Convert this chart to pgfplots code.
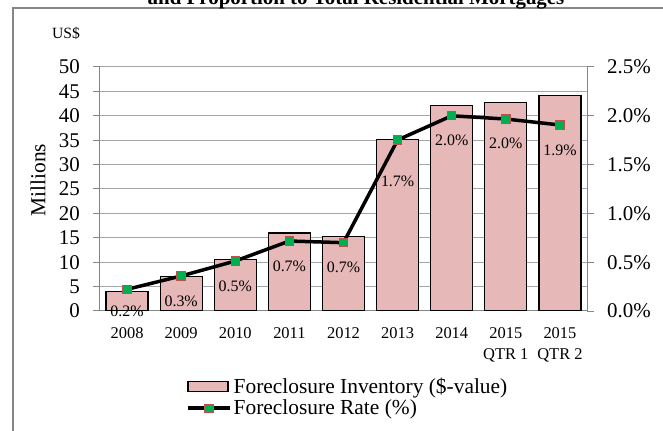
\documentclass[border=0pt]{standalone}
\usepackage{fontspec}
\setmainfont{Liberation Serif}
\usepackage{pgfplots}
\pgfplotsset{compat=1.18}
\definecolor{barfill}{HTML}{E6B9B8}
\definecolor{mkgreen}{HTML}{00B050}
\definecolor{mkred}{HTML}{C0504D}
\definecolor{axgray}{HTML}{868686}
\definecolor{grdgray}{HTML}{A6A6A6}
\pgfplotstableread{
x inv rate lab dy
0 3.95 0.222 0.2 -22
1 7.0 0.359 0.3 -25
2 10.6 0.512 0.5 -25
3 16.0 0.717 0.7 -25
4 15.3 0.700 0.7 -25
5 35.2 1.752 1.7 -41
6 42.1 2.000 2.0 -25
7 42.7 1.967 2.0 -24
8 44.2 1.906 1.9 -25
}\datatable
\begin{document}
\begin{tikzpicture}
\draw[axgray, line width=1.3bp] (13bp,-5bp) -- (13bp,423bp) -- (670bp,423bp);
\node[font=\bfseries\fontsize{21}{25}\selectfont, anchor=base] at (356bp,426bp) {and Proportion to Total Residential Mortgages};
\node[font=\fontsize{15.7}{18}\selectfont] at (66bp,398bp) {US\$};
\node[font=\fontsize{21.5}{24}\selectfont, rotate=90] at (38bp,251bp) {Millions};
\begin{axis}[
  at={(100bp,120bp)}, anchor=south west,
  scale only axis, width=487bp, height=244bp,
  xmin=-0.5, xmax=8.5, ymin=0, ymax=50,
  axis x line*=bottom, axis y line*=left,
  axis line style={axgray, line width=1bp},
  tick align=outside,
  major tick length=7bp, minor tick length=6bp,
  every tick/.style={axgray, line width=1bp},
  xtick={0,...,8}, x tick style={draw=none},
  minor xtick={-0.5,0.5,...,8.5},
  every minor tick/.style={axgray, line width=1bp},
  xticklabels={2008,2009,2010,2011,2012,2013,2014,{2015\\QTR 1},{2015\\QTR 2}},
  xticklabel style={font=\fontsize{16.5}{21}\selectfont, align=center, inner sep=0pt, yshift=-9bp},
  ytick={0,5,...,50},
  yticklabels={0,5,10,15,20,25,30,35,40,45,50},
  yticklabel style={font=\fontsize{21}{24}\selectfont, inner xsep=0pt, xshift=-13bp},
  ymajorgrids, major grid style={grdgray, line width=1bp},
]
\addplot[ybar, bar width=42bp, fill=barfill, draw=black, line width=1.2bp] table[x=x,y=inv]{\datatable};
\end{axis}
\begin{axis}[
  at={(100bp,120bp)}, anchor=south west,
  scale only axis, width=487bp, height=244bp,
  xmin=-0.5, xmax=8.5, ymin=0, ymax=2.5,
  hide x axis, axis y line*=right,
  axis line style={axgray, line width=1bp},
  tick align=outside, major tick length=7bp,
  every tick/.style={axgray, line width=1bp},
  ytick={0,0.5,...,2.5},
  yticklabels={0.0\%,0.5\%,1.0\%,1.5\%,2.0\%,2.5\%},
  yticklabel style={font=\fontsize{21}{24}\selectfont, inner xsep=0pt, xshift=13bp},
  legend style={at={(0.1766,-0.274)}, anchor=north west, draw=none, fill=none,
    font=\fontsize{21.5}{24}\selectfont, row sep=5bp, inner sep=0pt,
    nodes={inner xsep=2bp, inner ysep=0pt}},
  legend cell align=left,
]
\addlegendimage{legend image code/.code={\draw[fill=barfill, draw=black, line width=1.2bp] (0bp,-5bp) rectangle (40bp,5bp);}}
\addlegendentry{Foreclosure Inventory (\$-value)}
\addplot[black, line width=3.5bp, mark=square*, mark size=4.2bp,
  mark options={fill=mkgreen, draw=mkred, line width=1bp},
  legend image code/.code={\draw[black,line width=3.5bp] (0bp,0bp) -- (42bp,0bp); \draw[fill=mkgreen,draw=mkred,line width=1bp] (16.8bp,-4.2bp) rectangle (25.2bp,4.2bp);}]
  table[x=x,y=rate]{\datatable};
\addlegendentry{Foreclosure Rate (\%)}
\addplot[draw=none, mark=none, forget plot,
  nodes near coords={\pgfplotspointmeta\%}, point meta=explicit symbolic,
  visualization depends on={\thisrow{dy} \as \dy},
  every node near coord/.append style={anchor=center, yshift=\dy bp, inner sep=0pt, font=\fontsize{16}{18}\selectfont}]
  table[x=x,y=rate,meta=lab]{\datatable};
\end{axis}
\pgfresetboundingbox
\useasboundingbox (0,0) rectangle (663bp,431bp);
\end{tikzpicture}
\end{document}
